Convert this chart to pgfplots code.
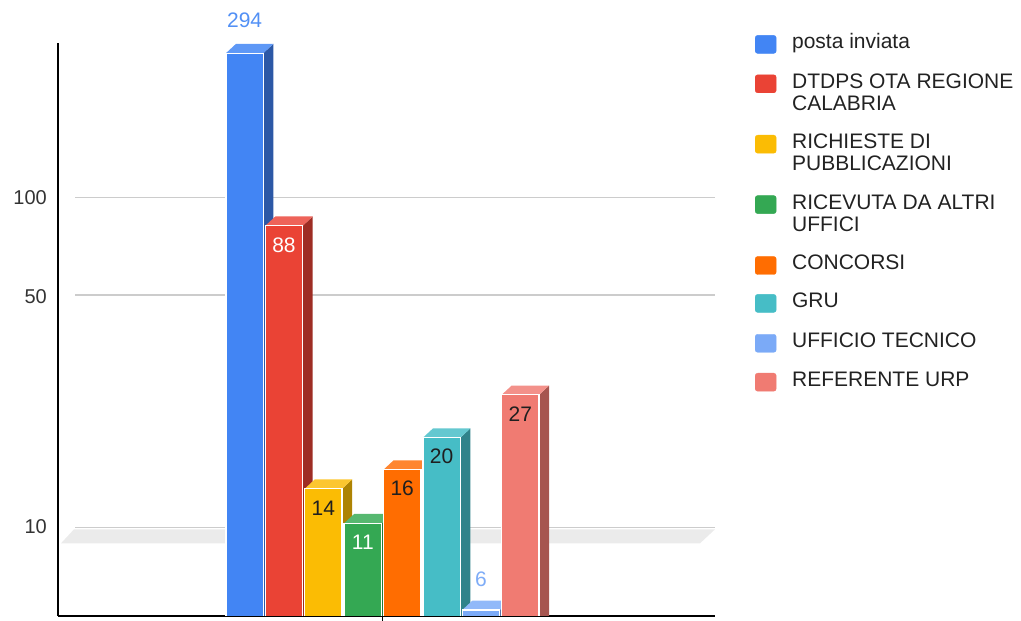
\documentclass[border=0pt]{standalone}
\usepackage{pgfplots}
\pgfplotsset{compat=1.18}
\usepackage{fontspec}
\setmainfont{Liberation Sans}
\definecolor{fBlue}{HTML}{4285F4}\definecolor{tBlue}{HTML}{5E98F6}\definecolor{sBlue}{HTML}{2C58A6}
\definecolor{fRed}{HTML}{EA4335}\definecolor{tRed}{HTML}{EE6359}\definecolor{sRed}{HTML}{9E2D24}
\definecolor{fYel}{HTML}{FBBC04}\definecolor{tYel}{HTML}{FCC630}\definecolor{sYel}{HTML}{AE8303}
\definecolor{fGrn}{HTML}{34A853}\definecolor{tGrn}{HTML}{56B870}\definecolor{sGrn}{HTML}{247539}
\definecolor{fOra}{HTML}{FF6D01}\definecolor{tOra}{HTML}{FF8630}\definecolor{sOra}{HTML}{B04B01}
\definecolor{fCya}{HTML}{46BDC6}\definecolor{tCya}{HTML}{64C8D0}\definecolor{sCya}{HTML}{30838A}
\definecolor{fLbl}{HTML}{7BAAF7}\definecolor{tLbl}{HTML}{91B9F9}\definecolor{sLbl}{HTML}{5576AC}
\definecolor{fPnk}{HTML}{F07B72}\definecolor{tPnk}{HTML}{F3918A}\definecolor{sPnk}{HTML}{A6554F}
\definecolor{gridc}{HTML}{CCCCCC}
\definecolor{bandc}{HTML}{EBEBEB}
\definecolor{tickc}{HTML}{333333}
\definecolor{legc}{HTML}{222222}
\definecolor{darkc}{HTML}{1F1F1F}
\definecolor{lab294}{HTML}{5290F5}
\definecolor{lab6}{HTML}{7EACF7}
% center, value, front, top, side, label colour, label shift
\newcommand{\tdbar}[7]{%
  \pgfmathsetmacro{\xa}{#1-18.7}\pgfmathsetmacro{\xb}{#1+18.7}%
  \pgfmathsetmacro{\xc}{#1+28.7}\pgfmathsetmacro{\xd}{#1-8.7}%
  \pgfmathsetmacro{\vb}{#2*1.0671}%
  \addplot[fill=#5, draw=none, forget plot] coordinates {(\xb,4) (\xb,#2) (\xc,\vb) (\xc,4)};
  \addplot[fill=#4, draw=none, forget plot] coordinates {(\xa,#2) (\xb,#2) (\xc,\vb) (\xd,\vb)};
  \addplot[ybar, bar width=37.4, bar shift=0pt, fill=#3, draw=white, line width=1.3pt, forget plot,
    point meta=rawy, nodes near coords,
    every node near coord/.append style={anchor=center, yshift=#7, text=#6,
      font=\fontsize{21}{24}\selectfont}]
    coordinates {(#1,#2)};
}
% colour, text, depth below baseline reserved for the row
\newcommand{\legsq}[3]{%
  \addlegendimage{legend image code/.code={\fill[#1,rounded corners=2.5pt] (0pt,-4.5pt) rectangle (21pt,13.5pt);
     \path[draw=none,fill=none] (0pt,15.4pt) -- (0pt,-#3);}}
  \addlegendentry{\begin{tabular}[t]{@{}l@{}}#2\end{tabular}}
}
\begin{document}
\begin{tikzpicture}
\path[use as bounding box] (0,0) rectangle (1021pt,621pt);
\begin{axis}[
  at={(58pt,5pt)}, anchor=south west, scale only axis,
  width=657pt, height=573pt,
  xmin=58, xmax=715, ymode=log, ymin=5.754, ymax=315.8,
  axis x line*=bottom, axis y line*=left,
  axis line style={-, black, line width=1.3pt},
  xtick={382.5}, xticklabels={}, xtick align=center, major tick length=13pt,
  xtick style={black, line width=1.3pt},
  ytick={10,50,100}, yticklabels={10,50,100}, minor ytick={}, ytick style={draw=none},
  yticklabel style={font=\fontsize{20}{24}\selectfont, text=tickc, inner sep=0pt,
    anchor=east, xshift=-11pt, yshift=10.3pt},
  clip mode=individual,
  /pgf/number format/assume math mode=true,
  legend style={draw=none, fill=none, inner sep=0pt, outer sep=0pt,
    at={(rel axis cs:1,1)}, anchor=north west, xshift=40pt, yshift=9.5pt,
    row sep=0pt, column sep=15.7pt,
    font=\fontsize{21}{22}\selectfont,
    nodes={inner sep=0pt, text=legc},
    cells={anchor=base west}},
]
% back grid and floor band
\addplot[gridc, line width=1.3pt, forget plot] coordinates {(75,107.1) (715,107.1)};
\addplot[gridc, line width=1.3pt, forget plot] coordinates {(75,54.26) (715,54.26)};
\addplot[fill=bandc, draw=none, forget plot] coordinates {(74,10.546) (715,10.546) (700,9.563) (61,9.563)};
\addplot[gridc, line width=1.3pt, forget plot] coordinates {(75,10.66) (715,10.66)};
% bars
\tdbar{244.6}{294}{fBlue}{tBlue}{sBlue}{lab294}{33.3pt}
\tdbar{284.0}{88}{fRed}{tRed}{sRed}{white}{-19pt}
\tdbar{323.4}{14}{fYel}{tYel}{sYel}{darkc}{-19.5pt}
\tdbar{362.8}{11}{fGrn}{tGrn}{sGrn}{white}{-19pt}
\tdbar{402.2}{16}{fOra}{tOra}{sOra}{darkc}{-18.5pt}
\tdbar{441.6}{20}{fCya}{tCya}{sCya}{darkc}{-18.5pt}
\tdbar{481.0}{6}{fLbl}{tLbl}{sLbl}{lab6}{31pt}
\tdbar{520.4}{27}{fPnk}{tPnk}{sPnk}{darkc}{-19pt}
% legend
\legsq{fBlue}{posta inviata}{24pt}
\legsq{fRed}{DTDPS OTA REGIONE\\CALABRIA}{45pt}
\legsq{fYel}{RICHIESTE DI\\PUBBLICAZIONI}{45pt}
\legsq{fGrn}{RICEVUTA DA ALTRI\\UFFICI}{45.5pt}
\legsq{fOra}{CONCORSI}{22.5pt}
\legsq{fCya}{GRU}{24.5pt}
\legsq{fLbl}{UFFICIO TECNICO}{23.5pt}
\legsq{fPnk}{REFERENTE URP}{23pt}
\end{axis}
\end{tikzpicture}
\end{document}
